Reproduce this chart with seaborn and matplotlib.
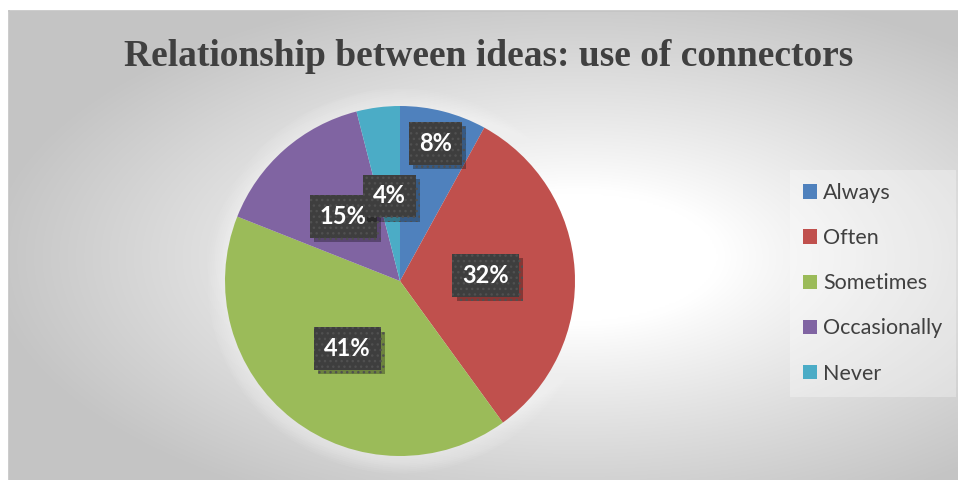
import numpy as np
import matplotlib
matplotlib.use("Agg")
import matplotlib.pyplot as plt
import matplotlib.patheffects as pe
import seaborn as sns

# Survey responses: how often connectors are used to relate ideas
categories = ["Always", "Often", "Sometimes", "Occasionally", "Never"]
shares = [8, 32, 41, 15, 4]
pct_labels = ["8%", "32%", "41%", "15%", "4%"]
colors = ["#4F81BD", "#C0504D", "#9BBB59", "#8064A2", "#4BACC6"]
title = "Relationship between ideas: use of connectors"

# distance of each percentage label from the pie centre (fraction of radius)
label_radius = [0.81, 0.49, 0.49, 0.49, 0.49]

sns.set_theme(style="white")
plt.rcParams["font.family"] = ["Lato", "DejaVu Sans"]

W, H = 958, 480
fig = plt.figure(figsize=(W / 100, H / 100), dpi=100, facecolor="white")

# chart area background: elliptical radial gradient, white centre to grey corners
bx0, by0 = 9, 11
bg = fig.add_axes([bx0 / W, 0, (W - bx0) / W, (H - by0) / H], zorder=0)
gx = np.linspace(-1, 1, 480)
gy = np.linspace(-1, 1, 240)
XX, YY = np.meshgrid(gx, gy)
cx, cy = 0.20, 0.05
t = np.sqrt(((XX - cx) / 1.0) ** 2 + ((YY - cy) / 0.95) ** 2)
t = np.clip((t - 0.30) / 0.95, 0, 1)
level = 1.0 - 0.23 * t ** 0.9
bg.imshow(np.dstack([level, level, level]), aspect="auto",
          extent=[0, 1, 0, 1], interpolation="bicubic")
bg.set_xlim(0, 1)
bg.set_ylim(0, 1)
bg.set_xticks([])
bg.set_yticks([])
for side, sp in bg.spines.items():
    sp.set_visible(side in ("left", "top"))
    sp.set_color("#c4c4c4")
    sp.set_linewidth(1.2)

# pie axes
pcx, pcy, rad = 400, H - 281, 175
ax = fig.add_axes([(pcx - rad) / W, (pcy - rad) / H, 2 * rad / W, 2 * rad / H], zorder=2)
ax.set_facecolor("none")

# faint light halo around the pie
for k in np.linspace(1.10, 1.0, 10):
    ax.add_patch(plt.Circle((0, 0), k, color="white", alpha=0.06, lw=0,
                            zorder=0, clip_on=False))

wedges, _ = ax.pie(shares, colors=colors, startangle=90, counterclock=False,
                   radius=1.0, wedgeprops=dict(linewidth=0))
ax.set_xlim(-1, 1)
ax.set_ylim(-1, 1)
ax.set_aspect("equal")
ax.axis("off")

for w, lab, r in zip(wedges, pct_labels, label_radius):
    mid = np.deg2rad((w.theta1 + w.theta2) / 2)
    txt = ax.text(r * np.cos(mid), r * np.sin(mid), lab, ha="center", va="center",
                  fontsize=17, fontweight="bold", color="white", zorder=5,
                  bbox=dict(boxstyle="square,pad=0.42", facecolor="#3e3e3e",
                            edgecolor="#505050", linewidth=0, hatch="..."))
    txt.get_bbox_patch().set_path_effects(
        [pe.SimplePatchShadow(offset=(3, -3), shadow_rgbFace="#000000", alpha=0.3),
         pe.Normal()])

fig.text(489 / W, 1 - 56 / H, title, ha="center", va="center",
         fontsize=27, fontweight="bold", color="#404040",
         family=["Liberation Serif", "DejaVu Serif"])

leg = fig.legend(wedges, categories, loc="upper left",
                 bbox_to_anchor=(790 / W, 1 - 170 / H), borderaxespad=0,
                 frameon=True, fontsize=15.5, handlelength=0.65, handleheight=0.65,
                 handletextpad=0.3, labelspacing=1.17, borderpad=0.6,
                 fancybox=False, labelcolor="#404040")
frame = leg.get_frame()
frame.set_facecolor("white")
frame.set_alpha(0.3)
frame.set_linewidth(0)

fig.savefig("out.png", dpi=100, facecolor="white")
